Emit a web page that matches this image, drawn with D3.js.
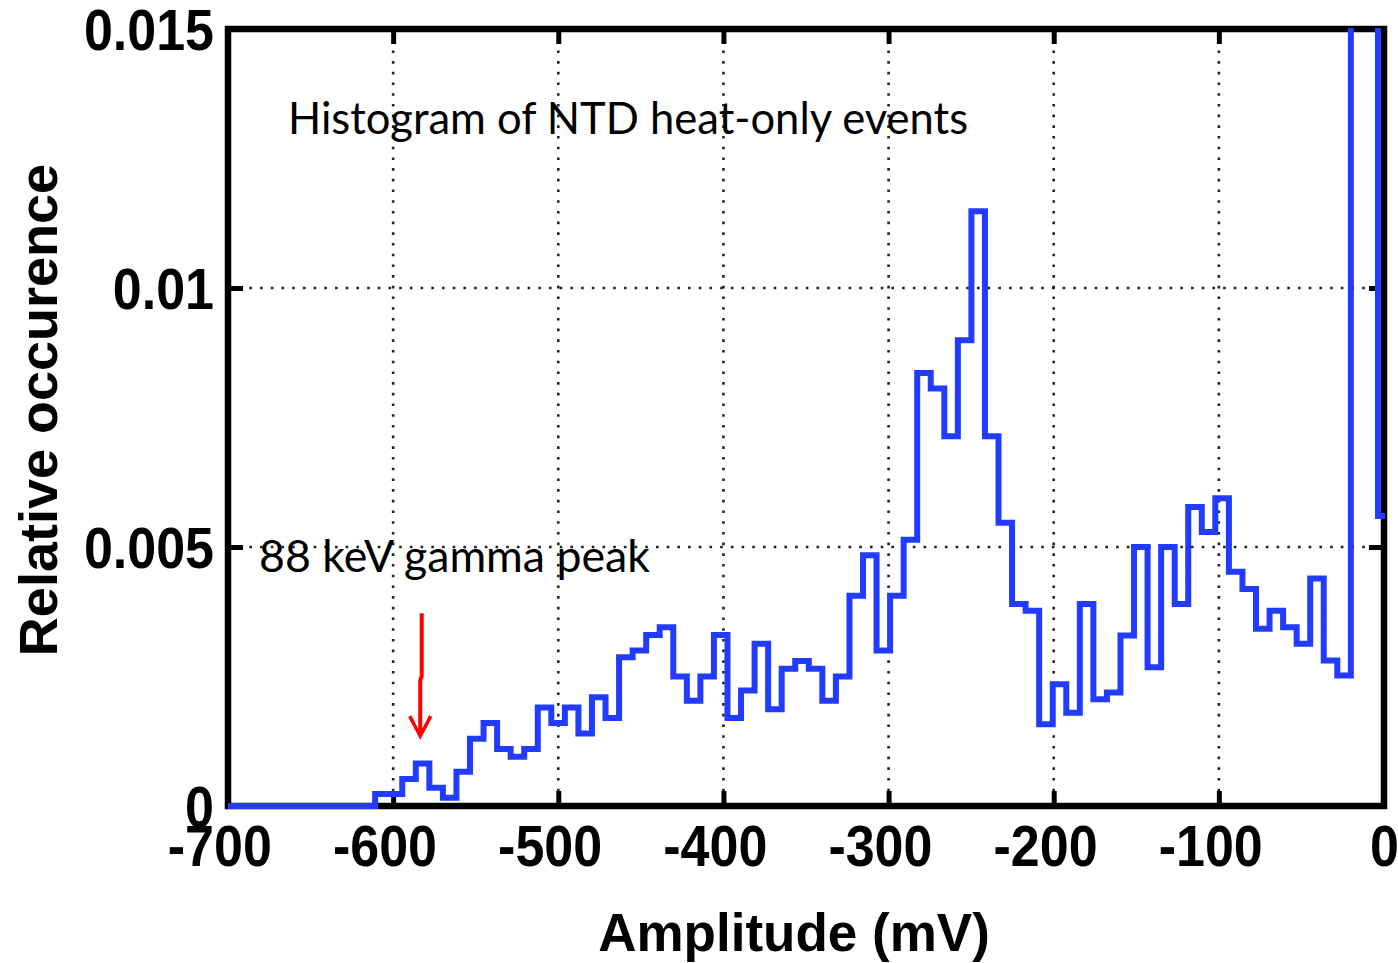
<!DOCTYPE html>
<html>
<head>
<meta charset="utf-8">
<script src="https://cdn.jsdelivr.net/npm/d3@7"></script>
<style>
  html, body { margin: 0; padding: 0; background: #ffffff; }
  svg { display: block; }
</style>
</head>
<body>
<svg id="chart" width="1398" height="963"></svg>
<script>
// ---------------- DATA ----------------
const xTicks = [-700, -600, -500, -400, -300, -200, -100, 0];
const xTickLabels = ["-700", "-600", "-500", "-400", "-300", "-200", "-100", "0"];
const yTicks = [0, 0.005, 0.01, 0.015];
const yTickLabels = ["0", "0.005", "0.01", "0.015"];
const xGrid = [-600, -500, -400, -300, -200, -100];
const yGrid = [0.005, 0.01];

// histogram: first bin left edge (mV), bin width (mV), relative occurrence per bin
const binStart = -610.9;
const binWidth = 8.206;
const occurrence = [
  0.00023, 0.00023, 0.00052, 0.00082, 0.00035, 0.00016, 0.00066, 0.0013, 0.0016, 0.0011,
  0.00095, 0.0011, 0.0019, 0.0016, 0.0019, 0.0014, 0.0021, 0.0017,
  0.00287, 0.0030, 0.0033, 0.00345, 0.0025, 0.00203, 0.0025, 0.0033, 0.0017, 0.00223,
  0.00313, 0.00187, 0.00265, 0.0028, 0.00265, 0.00203, 0.0025, 0.00406, 0.00484, 0.0030, 0.00406,
  0.00514, 0.00836, 0.00806, 0.00714, 0.00899, 0.01148, 0.00714, 0.00547,
  0.0039, 0.00377, 0.00158, 0.00235, 0.0018, 0.0039, 0.00206, 0.00219, 0.00329, 0.005,
  0.00268, 0.005, 0.0039, 0.00577, 0.00529, 0.00594, 0.00452, 0.00419, 0.00342, 0.00377,
  0.00345, 0.00313, 0.00439, 0.00281, 0.00252,
  0.03, 0.03, 0.0056
];

const xLabel = "Amplitude (mV)";
const yLabel = "Relative occurence";
const noteTitle = "Histogram of NTD heat-only events";
const notePeak = "88 keV gamma peak";
// arrow annotation anchor (data units)
const arrowX = -583.6;
const arrowTop = 0.00372;
const arrowTip = 0.00135;

// ---------------- LAYOUT ----------------
const W = 1398, H = 963;
const m = { left: 228, right: 14, top: 29, bottom: 157 };
const pw = W - m.left - m.right;
const ph = H - m.top - m.bottom;

const svg = d3.select("#chart");
const g = svg.append("g").attr("transform", `translate(${m.left},${m.top})`);

const x = d3.scaleLinear().domain([-700, 0]).range([0, pw]);
const y = d3.scaleLinear().domain([0, 0.015]).range([ph, 0]);

const tickFont = "'Liberation Sans', Arial, Helvetica, sans-serif";
const noteFont = "Lato, 'Open Sans', sans-serif";
const stretch = 1.1; // tick labels are slightly taller than regular Arial

// grid (dotted)
g.append("g").selectAll("line.vg").data(xGrid).join("line")
  .attr("x1", d => x(d)).attr("x2", d => x(d))
  .attr("y1", 0).attr("y2", ph)
  .attr("stroke", "#222").attr("stroke-width", 2.6)
  .attr("stroke-dasharray", "2.6 8.1");
g.append("g").selectAll("line.hg").data(yGrid).join("line")
  .attr("x1", 0).attr("x2", pw)
  .attr("y1", d => y(d)).attr("y2", d => y(d))
  .attr("stroke", "#222").attr("stroke-width", 2.6)
  .attr("stroke-dasharray", "2.6 8.1");

// axes with inward ticks
const tickLen = 15;
const axB = g.append("g").attr("transform", `translate(0,${ph})`)
  .call(d3.axisBottom(x).tickValues(xTicks)
    .tickFormat((d, i) => xTickLabels[i])
    .tickSizeInner(-tickLen).tickSizeOuter(0).tickPadding(25));
const axT = g.append("g")
  .call(d3.axisTop(x).tickValues(xTicks).tickFormat("")
    .tickSizeInner(-tickLen).tickSizeOuter(0));
const axL = g.append("g")
  .call(d3.axisLeft(y).tickValues(yTicks)
    .tickFormat((d, i) => yTickLabels[i])
    .tickSizeInner(-tickLen).tickSizeOuter(0).tickPadding(14));
const axR = g.append("g").attr("transform", `translate(${pw},0)`)
  .call(d3.axisRight(y).tickValues(yTicks).tickFormat("")
    .tickSizeInner(-tickLen).tickSizeOuter(0));

[axB, axT, axL, axR].forEach(a => {
  a.select(".domain").remove();
  a.selectAll(".tick line").attr("stroke", "#000").attr("stroke-width", 5);
  a.selectAll("text").attr("fill", "#000")
    .style("font-family", tickFont).style("font-weight", "bold").style("font-size", "52px");
});

// vertical placement with slight vertical stretch
axB.selectAll(".tick text")
  .attr("dy", null)
  .attr("y", 60 / stretch)
  .attr("transform", `scale(1,${stretch})`);
axL.selectAll(".tick text")
  .attr("dy", null)
  .attr("y", 20 / stretch)
  .attr("transform", `scale(1,${stretch})`);

// center digits (not the minus sign) under each x tick, as in the original
const tmp = svg.append("text").style("font-family", tickFont).style("font-weight", "bold")
  .style("font-size", "52px").text("-");
const minusW = tmp.node().getComputedTextLength();
tmp.remove();
axB.selectAll(".tick text").each(function() {
  const t = d3.select(this);
  if (t.text().startsWith("-")) t.attr("dx", -minusW / 2);
});

// histogram step line
const edges = occurrence.map((v, i) => binStart + i * binWidth);
const pts = [[-700, 0]];
occurrence.forEach((v, i) => pts.push([edges[i], v]));
pts.push([binStart + occurrence.length * binWidth, occurrence[occurrence.length - 1]]);

svg.append("defs").append("clipPath").attr("id", "clip")
  .append("rect").attr("x", 0).attr("y", -1).attr("width", pw + 1).attr("height", ph + 4);

const line = d3.line().x(d => x(d[0])).y(d => y(d[1])).curve(d3.curveStepAfter);

// box
g.append("rect").attr("x", 0).attr("y", 0).attr("width", pw).attr("height", ph)
  .attr("fill", "none").attr("stroke", "#000").attr("stroke-width", 6.5);

g.append("path").datum(pts)
  .attr("clip-path", "url(#clip)")
  .attr("d", line)
  .attr("fill", "none")
  .attr("stroke", "#213cff")
  .attr("stroke-width", 6)
  .attr("stroke-linejoin", "miter");

// axis titles
svg.append("text")
  .attr("x", 794).attr("y", 951)
  .attr("text-anchor", "middle")
  .style("font-family", tickFont).style("font-weight", "bold").style("font-size", "53px")
  .text(xLabel);
svg.append("text")
  .attr("transform", "translate(57,410) rotate(-90)")
  .attr("text-anchor", "middle")
  .style("font-family", tickFont).style("font-weight", "bold").style("font-size", "54px")
  .text(yLabel);

// annotations
g.append("text")
  .attr("x", 288 - m.left).attr("y", 134 - m.top)
  .attr("textLength", 680).attr("lengthAdjust", "spacingAndGlyphs")
  .style("font-family", noteFont).style("font-size", "45px").attr("fill", "#000")
  .text(noteTitle);
g.append("text")
  .attr("x", 259 - m.left).attr("y", 572 - m.top)
  .attr("textLength", 391).attr("lengthAdjust", "spacingAndGlyphs")
  .style("font-family", noteFont).style("font-size", "45px").attr("fill", "#000")
  .text(notePeak);

// red arrow
const ax = x(arrowX), yTop = y(arrowTop), yTip = y(arrowTip);
g.append("path")
  .attr("d", `M${ax + 1.5},${yTop} L${ax + 1.5},${yTop + 63} L${ax},${yTop + 67} L${ax},${yTip - 2}`)
  .attr("fill", "none").attr("stroke", "#ff0000").attr("stroke-width", 4);
g.append("path")
  .attr("d", `M${ax - 10.5},${yTip - 20} L${ax},${yTip} L${ax + 10.5},${yTip - 20}`)
  .attr("fill", "none").attr("stroke", "#ff0000").attr("stroke-width", 3.5);
</script>
</body>
</html>
